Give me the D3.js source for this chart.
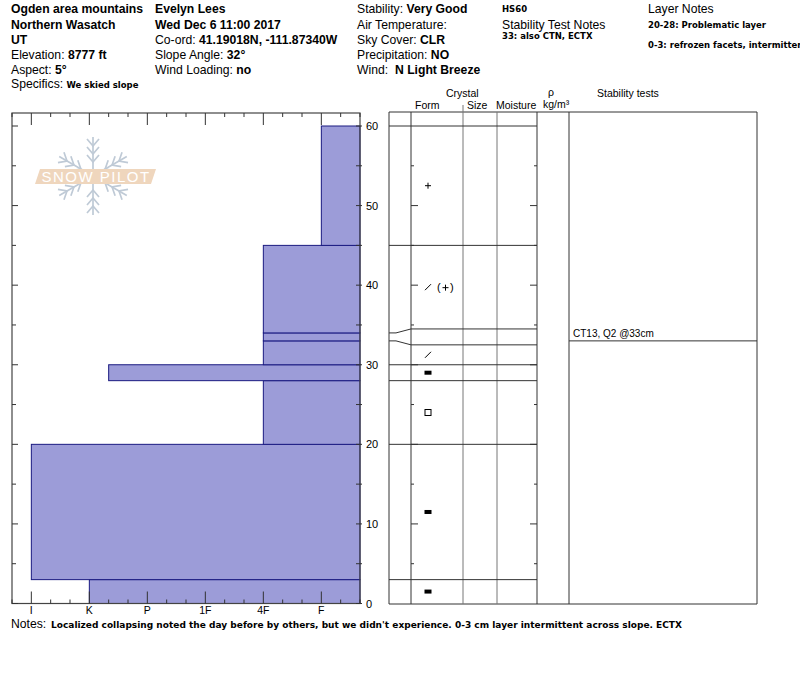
<!DOCTYPE html>
<html>
<head>
<meta charset="utf-8">
<script src="https://cdn.jsdelivr.net/npm/d3@7"></script>
<style>
  body { margin: 0; background: #fff; }
  svg text { font-family: "Liberation Sans", Arial, sans-serif; }
  .sm { font-family: "DejaVu Sans", Verdana, sans-serif !important; font-weight: bold; font-size: 8.5px; }
</style>
</head>
<body>
<div class="canvas"></div>
<script>
// snow layers, bottom to top (cm)
const layerBottom = [0, 3, 20, 28, 30, 33, 34, 45]
const layerTop = [3, 20, 28, 30, 33, 34, 45, 60]
const layerHardness = ['K', 'I', '4F', 'K+', '4F', '4F', '4F', 'F']
const layerForm = ['IF', 'IF', 'FC', 'IF', 'DF', '', 'DF', 'PP']
const layerForm2 = ['', '', '', '', '', '', 'PP', '']

// hardness axis
const hardnessLabels = ['I', 'K', 'P', '1F', '4F', 'F']
const depthTicks = [0, 10, 20, 30, 40, 50, 60]

// stability tests
const testDepth = [33]
const testLabel = ['CT13, Q2 @33cm']

// header text: [label, value]
const headCol1 = [['', 'Ogden area mountains'], ['', 'Northern Wasatch'], ['', 'UT'], ['Elevation: ', '8777 ft'], ['Aspect: ', '5°']]
const headCol2 = [['', 'Evelyn Lees'], ['', 'Wed Dec 6 11:00 2017'], ['Co-ord: ', '41.19018N, -111.87340W'], ['Slope Angle: ', '32°'], ['Wind Loading: ', 'no']]
const headCol3 = [['Stability: ', 'Very Good'], ['Air Temperature:', ''], ['Sky Cover: ', 'CLR'], ['Precipitation: ', 'NO'], ['Wind:\u00a0\u00a0', 'N Light Breeze']]
const notesText = "Localized collapsing noted the day before by others, but we didn't experience.  0-3 cm layer intermittent across slope.  ECTX"

const svg = d3.select('.canvas').append('svg')
    .attr('width', 800)
    .attr('height', 676)

// header
const lineY = [13, 28.5, 44, 59, 74]
function headColumn(rows, x) {
  rows.forEach((r, i) => {
    const t = svg.append('text').attr('x', x).attr('y', lineY[i]).style('font-size', '12.2px')
    t.append('tspan').text(r[0])
    t.append('tspan').style('font-weight', 'bold').text(r[1])
  })
}
headColumn(headCol1, 11)
headColumn(headCol2, 155)
headColumn(headCol3, 357)
const spec = svg.append('text').attr('x', 11).attr('y', 88).style('font-size', '12.2px')
spec.append('tspan').text('Specifics: ')
spec.append('tspan').attr('class', 'sm').text('We skied slope')

svg.append('text').attr('class', 'sm').attr('x', 502).attr('y', 12).text('HS60')
svg.append('text').attr('x', 502).attr('y', 28.5).style('font-size', '12.2px').text('Stability Test Notes')
svg.append('text').attr('class', 'sm').attr('x', 502).attr('y', 39).text('33: also CTN, ECTX')
svg.append('text').attr('x', 648).attr('y', 13).style('font-size', '12.2px').text('Layer Notes')
svg.append('text').attr('class', 'sm').attr('x', 648).attr('y', 28).text('20-28: Problematic layer')
svg.append('text').attr('class', 'sm').attr('x', 648).attr('y', 48).text('0-3: refrozen facets, intermittent across slope')

// scales
const y = d3.scaleLinear().domain([0, 60]).range([603.5, 126])
const x = d3.scaleLinear().domain([0, 18]).range([12, 360])
function hIndex(h) {
  const base = hardnessLabels.indexOf(h.replace(/[+-]/, '')) * 3 + 1
  return base + (h.endsWith('+') ? 1 : h.endsWith('-') ? -1 : 0)
}

// snowpilot watermark
const logo = svg.append('g').attr('transform', 'translate(93,176)')
const flake = logo.append('g').attr('stroke', '#bfcad6').attr('stroke-width', 1.7).attr('fill', 'none')
d3.range(6).forEach(i => {
  const arm = flake.append('g').attr('transform', `rotate(${i * 60 - 90})`)
  arm.append('line').attr('x1', 6).attr('y1', 0).attr('x2', 39).attr('y2', 0)
  ;[14, 22, 30].forEach(d => {
    arm.append('path').attr('d', `M${d + 7},-6L${d},0L${d + 7},6`)
  })
})
logo.append('path')
    .attr('d', 'M-53,-7L63,-7L58,8L-58,8Z')
    .attr('fill', '#efd6bd')
logo.append('text')
    .attr('x', 3).attr('y', 6).attr('text-anchor', 'middle')
    .attr('fill', '#fff')
    .style('font-size', '15px').style('letter-spacing', '1.5px')
    .text('SNOW PILOT')

// hardness bars
const plot = svg.append('g')
plot.selectAll('rect.layer')
    .data(layerBottom)
    .enter().append('rect')
    .attr('class', 'layer')
    .attr('x', (d, i) => x(hIndex(layerHardness[i])))
    .attr('y', (d, i) => y(layerTop[i]))
    .attr('width', (d, i) => x(18) - x(hIndex(layerHardness[i])))
    .attr('height', (d, i) => y(d) - y(layerTop[i]))
    .attr('fill', '#9c9cd8')
    .attr('stroke', '#1a1a80')
    .attr('stroke-width', 1)

// plot frame
plot.append('rect')
    .attr('x', 12).attr('y', 113)
    .attr('width', 348).attr('height', 490.5)
    .attr('fill', 'none').attr('stroke', '#444').attr('stroke-width', 1.2)

// hardness ticks top & bottom
d3.range(0, 19).forEach(h => {
  const len = (h % 3 === 1) ? 12 : 4
  plot.append('line').attr('x1', x(h)).attr('x2', x(h)).attr('y1', 113).attr('y2', 113 + len).attr('stroke', '#333')
  plot.append('line').attr('x1', x(h)).attr('x2', x(h)).attr('y1', 603.5).attr('y2', 603.5 - len).attr('stroke', '#333')
})
plot.selectAll('text.hl')
    .data(hardnessLabels)
    .enter().append('text')
    .attr('x', (d, i) => x(i * 3 + 1))
    .attr('y', 614)
    .attr('text-anchor', 'middle')
    .style('font-size', '10.5px')
    .text(d => d)

// depth ticks
d3.range(0, 61, 5).forEach(d => {
  const len = d % 10 === 0 ? 6 : 4
  plot.append('line').attr('x1', 12).attr('x2', 12 + len).attr('y1', y(d)).attr('y2', y(d)).attr('stroke', '#333')
  plot.append('line').attr('x1', 356).attr('x2', 362).attr('y1', y(d)).attr('y2', y(d)).attr('stroke', '#333')
})
plot.selectAll('text.dl')
    .data(depthTicks)
    .enter().append('text')
    .attr('x', 366)
    .attr('y', d => y(d) + 4)
    .style('font-size', '11px')
    .text(d => d)

// notes
const notes = svg.append('text').attr('x', 11).attr('y', 627.5).style('font-size', '12.2px')
notes.append('tspan').text('Notes: ')
svg.append('text').attr('class', 'sm').attr('x', 51).attr('y', 627.5)
    .attr('textLength', 631).attr('lengthAdjust', 'spacingAndGlyphs')
    .text(notesText)

// ---- layer table ----
const colX = [389, 411, 463, 497, 537, 569, 757]
const table = svg.append('g').attr('stroke', '#333').attr('stroke-width', 1)
table.append('line').attr('x1', 389).attr('x2', 757).attr('y1', 112).attr('y2', 112)
table.append('line').attr('x1', 389).attr('x2', 757).attr('y1', 604).attr('y2', 604)
colX.forEach((cx, i) => {
  table.append('line')
      .attr('x1', cx).attr('x2', cx)
      .attr('y1', i === 2 ? 105 : 112).attr('y2', 604)
      .attr('stroke', (i === 2 || i === 3) ? '#777' : '#333')
})

// column headers
const heads = [['Crystal', 446, 97], ['Form', 415, 109], ['Size', 467, 109], ['Moisture', 496, 109],
  ['ρ', 548, 96], ['kg/m³', 543, 108], ['Stability tests', 597, 97]]
heads.forEach(h => {
  svg.append('text').attr('x', h[1]).attr('y', h[2]).style('font-size', '10.5px').text(h[0])
})

// display boundaries: thin layers widened to 2 cm
const bounds = layerBottom.concat([layerTop[layerTop.length - 1]])
const disp = bounds.slice()
layerBottom.forEach((b, i) => {
  if (layerTop[i] - b < 2) {
    const mid = (b + layerTop[i]) / 2
    disp[i] = mid - 1
    disp[i + 1] = mid + 1
  }
})
bounds.forEach((b, i) => {
  if (b === 0) return
  if (disp[i] !== b) {
    table.append('path')
        .attr('fill', 'none')
        .attr('d', `M389,${y(b)}L396,${y(b)}L411,${y(disp[i])}L537,${y(disp[i])}`)
  } else {
    table.append('line').attr('x1', 389).attr('x2', 537).attr('y1', y(b)).attr('y2', y(b))
  }
})

// ticks inside table
d3.range(5, 60, 5).forEach(d => {
  const len = d % 10 === 0 ? 7 : 3
  table.append('line').attr('x1', 411).attr('x2', 411 + len).attr('y1', y(d)).attr('y2', y(d))
  table.append('line').attr('x1', 537 - len).attr('x2', 537).attr('y1', y(d)).attr('y2', y(d))
})

// crystal form symbols
function drawSymbol(g, code, cx, cy) {
  if (code === 'IF') {
    g.append('rect').attr('x', cx - 3.5).attr('y', cy - 2).attr('width', 7).attr('height', 4).attr('fill', '#000')
  } else if (code === 'FC') {
    g.append('rect').attr('x', cx - 3).attr('y', cy - 3).attr('width', 6).attr('height', 6)
        .attr('fill', 'none').attr('stroke', '#000').attr('stroke-width', 1)
  } else if (code === 'DF') {
    g.append('line').attr('x1', cx - 3).attr('y1', cy + 3).attr('x2', cx + 3).attr('y2', cy - 3)
        .attr('stroke', '#000').attr('stroke-width', 1)
  } else if (code === 'PP') {
    g.append('line').attr('x1', cx - 3).attr('y1', cy).attr('x2', cx + 3).attr('y2', cy).attr('stroke', '#000')
    g.append('line').attr('x1', cx).attr('y1', cy - 3).attr('x2', cx).attr('y2', cy + 3).attr('stroke', '#000')
  }
}
const symbols = svg.append('g')
layerBottom.forEach((b, i) => {
  const cy = y((disp[i] + disp[i + 1]) / 2)
  drawSymbol(symbols, layerForm[i], 428, cy)
  if (layerForm2[i]) {
    symbols.append('text').attr('x', 437).attr('y', cy + 4).style('font-size', '11px').text('(')
    drawSymbol(symbols, layerForm2[i], 445.5, cy + 0.5)
    symbols.append('text').attr('x', 450).attr('y', cy + 4).style('font-size', '11px').text(')')
  }
})

// stability tests
testDepth.forEach((d, i) => {
  table.append('line').attr('x1', 569).attr('x2', 757).attr('y1', y(d)).attr('y2', y(d))
  svg.append('text').attr('x', 573).attr('y', y(d) - 4).style('font-size', '10px').text(testLabel[i])
})
</script>
</body>
</html>
